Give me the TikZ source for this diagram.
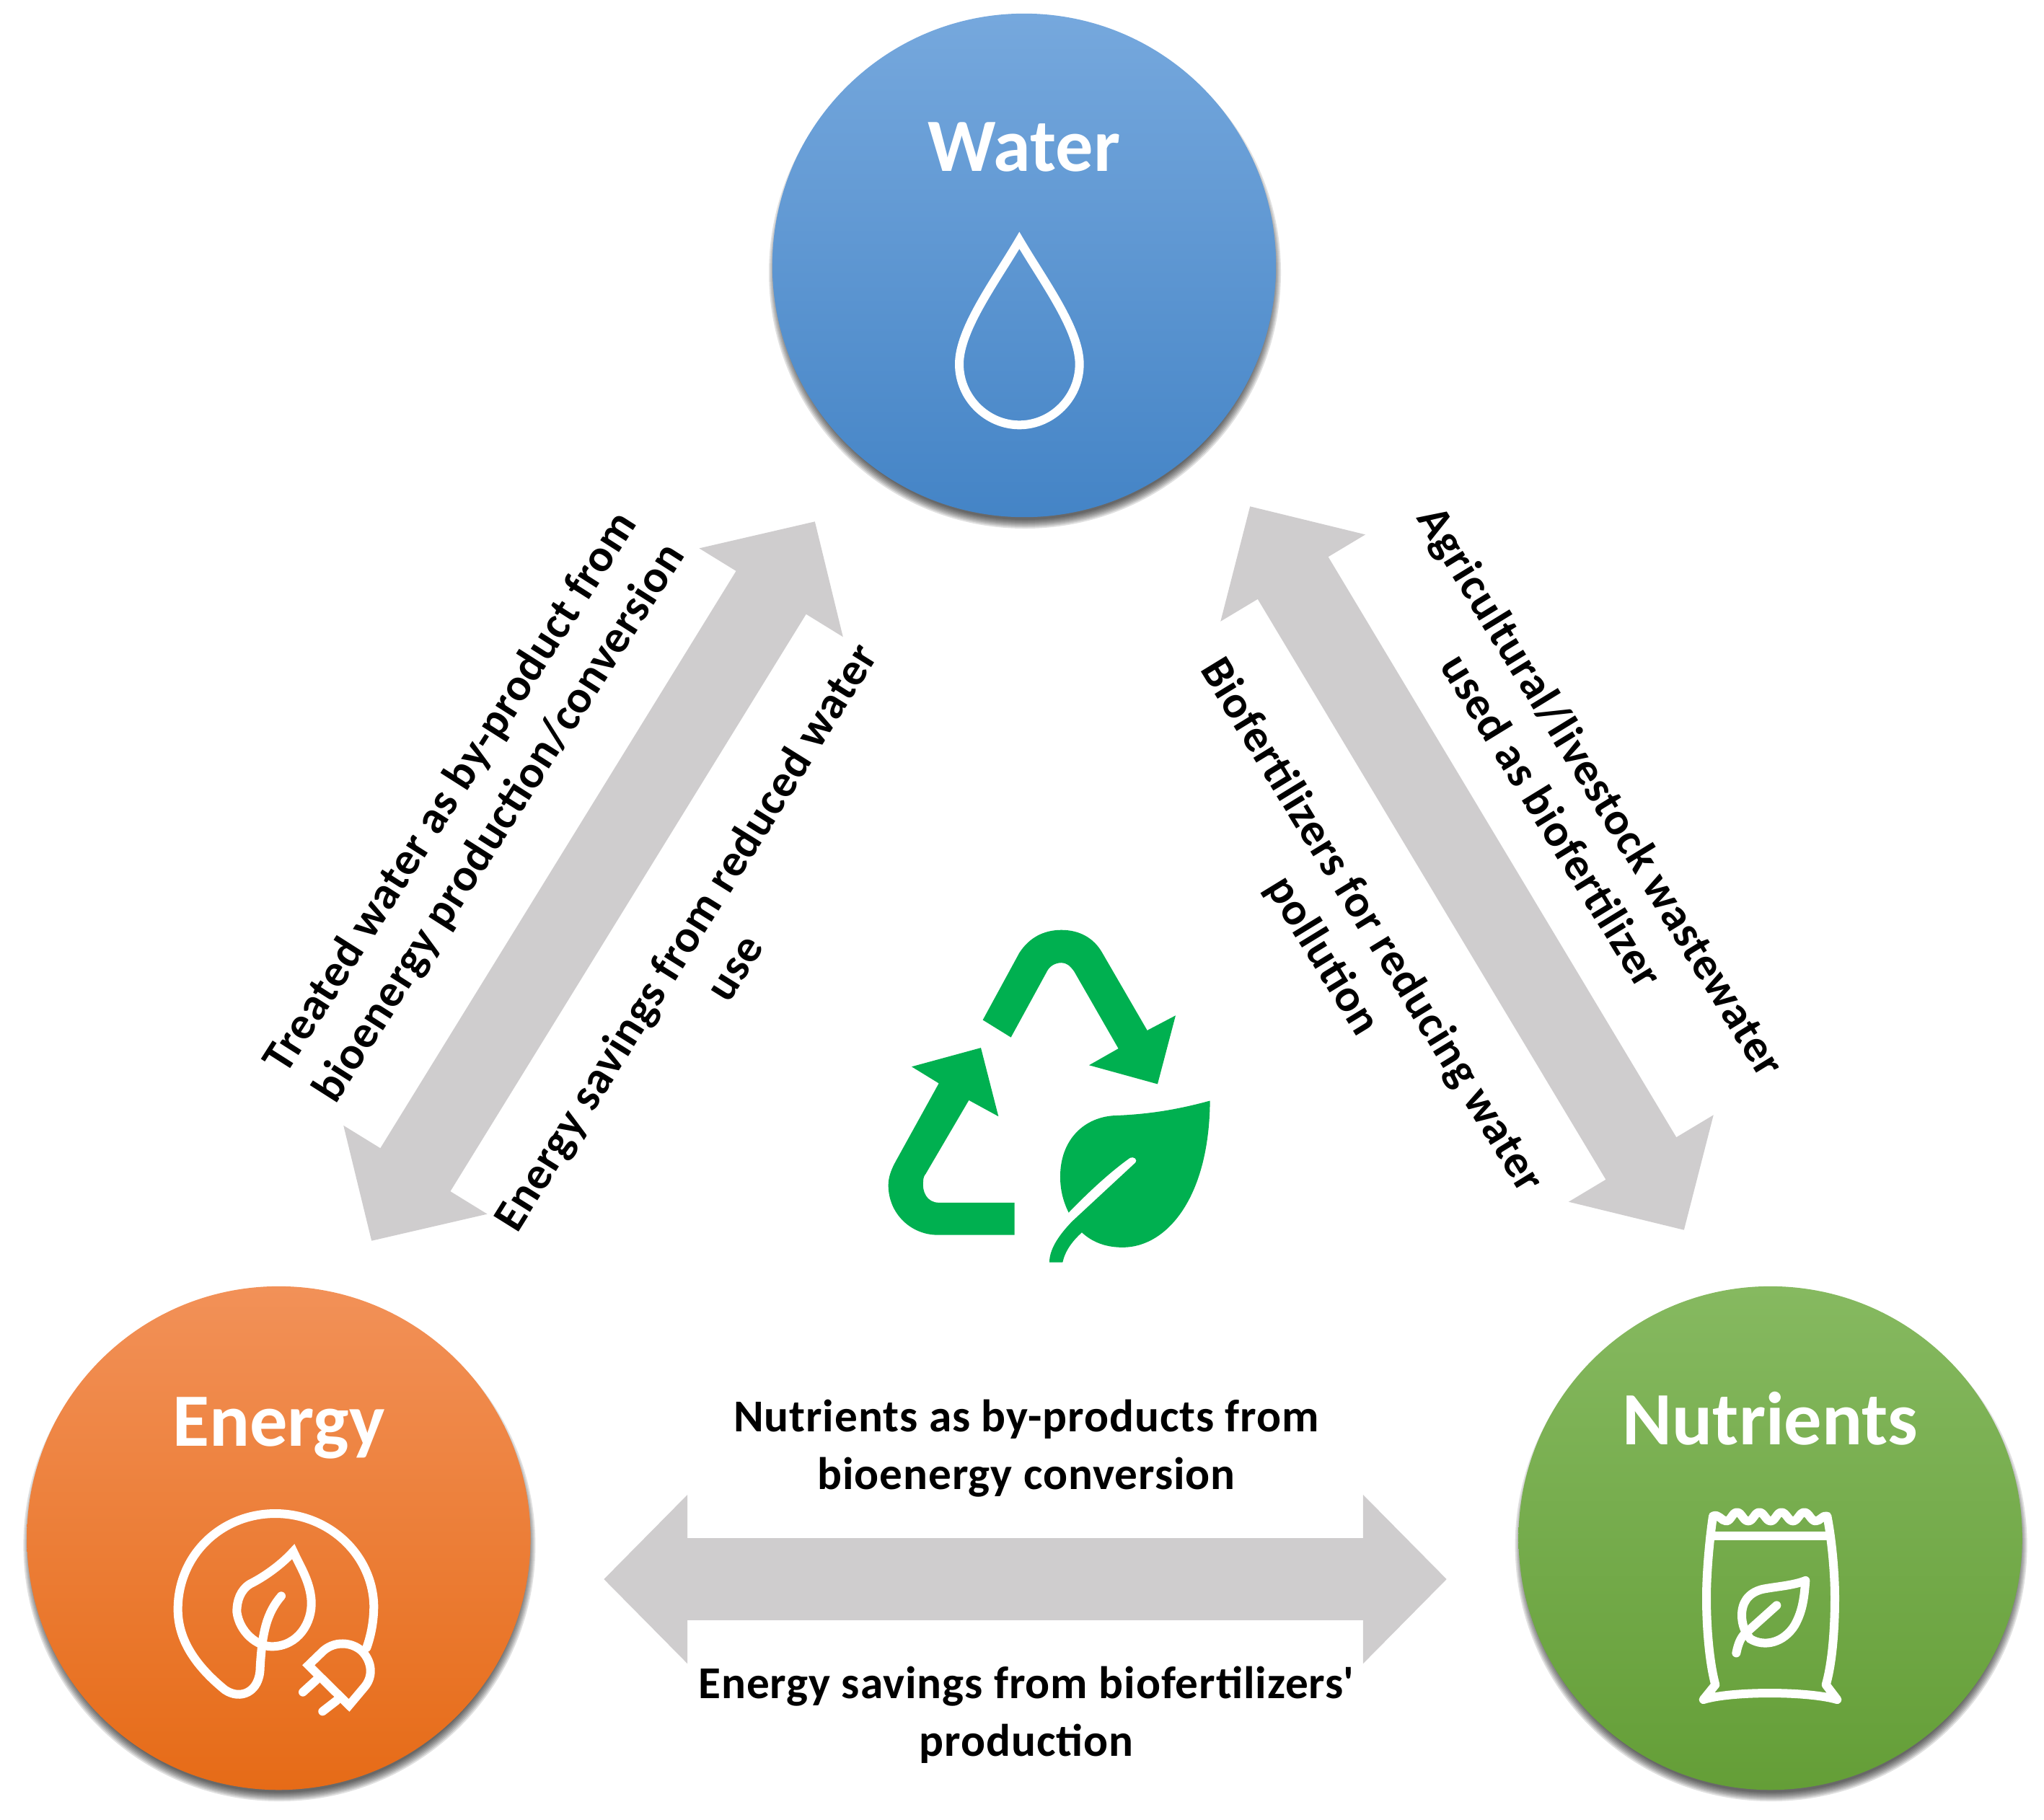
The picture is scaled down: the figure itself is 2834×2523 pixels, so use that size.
\documentclass[tikz,border=0pt]{standalone}
\usepackage{fontspec}
\setmainfont{Carlito}
\newfontfamily\labelfont[LetterSpace=1.5]{Carlito}
\usepackage{xcolor}
\usetikzlibrary{arrows.meta, positioning, backgrounds}
\definecolor{arrowgray}{HTML}{CFCDCE}
\definecolor{leafgreen}{HTML}{00B050}
\definecolor{watertop}{HTML}{76A8DD}
\definecolor{watermid}{HTML}{5A9ADB}
\definecolor{waterbot}{HTML}{4484C6}
\definecolor{energytop}{HTML}{F29158}
\definecolor{energymid}{HTML}{F57B28}
\definecolor{energybot}{HTML}{E66B17}
\definecolor{nutritop}{HTML}{86B960}
\definecolor{nutrimid}{HTML}{72AE48}
\definecolor{nutribot}{HTML}{649E37}
\begin{document}
\begin{tikzpicture}[x=0.01cm, y=-0.01cm]
\useasboundingbox (0,0) rectangle (2834,2523);
\tikzset{VertexStyle/.style={circle, minimum size=6.98cm, inner sep=0pt, on grid}}
\tikzset{TitleStyle/.style={text=white, font=\fontsize{29.7}{36}\selectfont\bfseries, on grid}}
\tikzset{LabelStyle/.style={align=center, font=\fontsize{18}{22.7}\labelfont\bfseries}}
\tikzset{EdgeStyle/.style={arrowgray, line width=1.14cm, {Triangle[length=1.16cm, width=2.27cm]}-{Triangle[length=1.16cm, width=2.27cm]}}}
\tikzset{IconStyle/.style={white, line width=0.12cm, line join=round, line cap=round}}
\node[VertexStyle, top color=watertop, middle color=watermid, bottom color=waterbot] (Water) at (1420,368) {};
\node[VertexStyle, top color=energytop, middle color=energymid, bottom color=energybot, below left=17.64cm and 10.33cm of Water] (Energy) {};
\node[VertexStyle, top color=nutritop, middle color=nutrimid, bottom color=nutribot, below right=17.64cm and 10.34cm of Water] (Nutrients) {};
\begin{scope}[on background layer]
\foreach \v in {Water, Energy, Nutrients}
  \foreach \d in {-6,-4,...,6}
    \fill[black, opacity=0.12] ([shift={(1,10)}]\v.center) circle[radius=349+\d];
\end{scope}
\node[TitleStyle, above=1.64cm of Water] (WaterTitle) {Water};
\node[TitleStyle, above=1.52cm of Energy] (EnergyTitle) {Energy};
\node[TitleStyle, above=1.66cm of Nutrients] (NutrientsTitle) {Nutrients};
\coordinate (wl) at (1130,723);
\coordinate (el) at (515,1721);
\coordinate (wr) at (1733,702);
\coordinate (nr) at (2335,1706);
\coordinate (eb) at (837,2190);
\coordinate (nb) at (2006,2190);
\draw[EdgeStyle] (wl) -- (el);
\draw[EdgeStyle] (wr) -- (nr);
\draw[EdgeStyle] (eb) -- (nb);
\node[LabelStyle, rotate=57.5] (wetop) at (660,1121) {Treated water as by-product from\\bioenergy production/conversion};
\node[LabelStyle, rotate=58] (webot) at (983,1320) {Energy savings from reduced water\\use};
\node[LabelStyle, rotate=-58.5] (nwtop) at (2187,1117) {Agricultural/livestock wastewater\\used as biofertilizer};
\node[LabelStyle, rotate=-58.5] (nwbot) at (1867,1305) {Biofertilizers for reducing water\\pollution};
\node[LabelStyle] (entop) at (1423,2009) {Nutrients as by-products from\\bioenergy conversion};
\node[LabelStyle] (enbot) at (1423,2378) {Energy savings from biofertilizers\textquotesingle\\production};
\begin{scope}[shift={(1280,300)}, scale=0.3333]
\draw[IconStyle, line join=miter] (400,100) .. controls (300,270) and (150,470) .. (150,615)
  .. controls (150,755) and (265,868) .. (400,868) .. controls (535,868) and (650,755) .. (650,615)
  .. controls (650,470) and (500,270) .. (400,100) -- cycle;
\end{scope}
\begin{scope}[shift={(200,2050)}, scale=0.3333]
\draw[IconStyle] (925,705) .. controls (945,650) and (955,590) .. (955,530)
  .. controls (950,320) and (770,147) .. (545,147) .. controls (320,147) and (140,320) .. (140,545)
  .. controls (140,660) and (200,770) .. (335,880) .. controls (400,925) and (480,890) .. (482,790)
  .. controls (490,640) and (510,560) .. (570,490);
\draw[IconStyle, line join=miter] (620,305) .. controls (570,360) and (500,410) .. (440,440)
  .. controls (400,465) and (385,510) .. (385,555) .. controls (395,640) and (470,700) .. (530,700)
  .. controls (640,700) and (700,600) .. (695,510) .. controls (690,430) and (650,370) .. (620,305) -- cycle;
\draw[IconStyle, line join=miter] (683,778) -- (745,718) .. controls (800,670) and (880,685) .. (915,730)
  .. controls (950,775) and (950,830) .. (915,870) -- (852,945) -- cycle;
\draw[IconStyle] (715,840) -- (660,890);
\draw[IconStyle] (800,925) -- (742,970);
\end{scope}
\begin{scope}[shift={(2300,2044)}, xscale=0.3333, yscale=0.344]
\draw[IconStyle] (225,170) .. controls (250,160) and (260,190) .. (280,190) .. controls (300,190) and (305,155) .. (325,155)
  .. controls (345,155) and (350,190) .. (372,190) .. controls (392,190) and (398,155) .. (418,155)
  .. controls (438,155) and (445,190) .. (465,190) .. controls (485,190) and (490,155) .. (510,155)
  .. controls (530,155) and (538,190) .. (558,190) .. controls (578,190) and (585,155) .. (605,155)
  .. controls (625,155) and (632,190) .. (652,190) .. controls (672,190) and (680,165) .. (700,170)
  .. controls (720,270) and (732,400) .. (732,500) .. controls (732,620) and (722,760) .. (695,850)
  -- (742,910) .. controls (620,875) and (300,875) .. (185,910) -- (235,850)
  .. controls (210,760) and (198,620) .. (198,500) .. controls (198,400) and (210,270) .. (225,170) -- cycle;
\draw[IconStyle] (215,250) -- (710,250);
\draw[IconStyle, line join=miter] (610,430) .. controls (560,450) and (480,455) .. (430,465)
  .. controls (370,480) and (345,520) .. (345,570) .. controls (345,610) and (360,640) .. (380,665)
  .. controls (440,700) and (520,680) .. (565,610) .. controls (600,550) and (605,490) .. (610,430);
\draw[IconStyle] (490,530) -- (352,650) .. controls (335,670) and (328,695) .. (322,722);
\end{scope}
\begin{scope}[shift={(1200,1249)}, xscale=0.3333, yscale=0.3447]
\fill[leafgreen] (488,480) -- (640,210) .. controls (680,150) and (740,118) .. (815,118)
  .. controls (890,118) and (950,150) .. (985,210) -- (1172,522) -- (1290,462) -- (1215,738) -- (930,662)
  -- (1052,595) -- (868,285) .. controls (850,260) and (835,250) .. (815,250) .. controls (790,250) and (765,262) .. (752,290) -- (605,550) -- cycle;
\fill[leafgreen] (620,1215) -- (305,1215) .. controls (255,1215) and (235,1170) .. (240,1130)
  .. controls (240,1115) and (245,1105) .. (250,1100) -- (430,803) -- (553,868) -- (480,592) -- (192,668) -- (305,735) -- (125,1050)
  .. controls (105,1085) and (95,1115) .. (95,1145) .. controls (95,1260) and (190,1345) .. (300,1345) -- (620,1345) -- cycle;
\fill[leafgreen] (1433,805) .. controls (1300,840) and (1180,860) .. (1030,865)
  .. controls (900,875) and (810,970) .. (810,1110) .. controls (810,1170) and (825,1215) .. (845,1255)
  .. controls (930,1170) and (1020,1090) .. (1100,1035) .. controls (1115,1028) and (1135,1040) .. (1122,1055)
  -- (860,1290) .. controls (800,1350) and (765,1405) .. (765,1455) -- (820,1455)
  .. controls (830,1410) and (860,1370) .. (900,1335) .. controls (950,1380) and (1010,1395) .. (1070,1395)
  .. controls (1250,1395) and (1430,1200) .. (1433,805) -- cycle;
\end{scope}
\end{tikzpicture}
\end{document}
